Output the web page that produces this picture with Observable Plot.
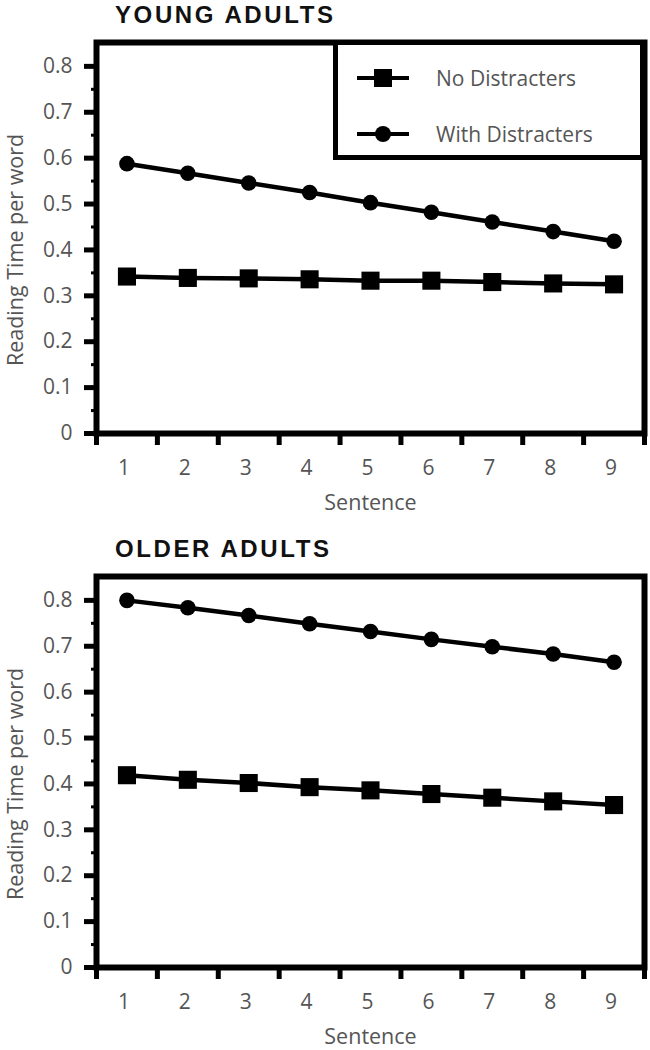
<!DOCTYPE html>
<html>
<head>
<meta charset="utf-8">
<script src="https://cdn.jsdelivr.net/npm/d3@7"></script>
<script src="https://cdn.jsdelivr.net/npm/@observablehq/plot@0.6"></script>
<style>
  html, body { margin: 0; padding: 0; background: #fff; }
  #root { position: relative; width: 650px; height: 1050px; overflow: hidden; }
  .panel { position: absolute; left: 0; width: 650px; }
  .title { position: absolute; left: 115px; top: 3px; font-family: "Liberation Sans", Arial, sans-serif;
           font-weight: bold; font-size: 24px; line-height: 24px; letter-spacing: 2.6px; color: #111; white-space: nowrap; }
  .legend { position: absolute; left: 333px; top: 40px; width: 312px; height: 120px; box-sizing: border-box;
            border: 5px solid #000; background: #fff; }
  .legend .item { position: absolute; left: 19px; display: flex; align-items: center; font-family: "Open Sans", sans-serif;
                  font-size: 21px; color: #555; white-space: nowrap; }
  .legend .item svg { margin-right: 27px; }
</style>
</head>
<body>
<div id="root"></div>
<script>
// ---- data ----
const sentences = [1, 2, 3, 4, 5, 6, 7, 8, 9];
const seriesNames = ["No Distracters", "With Distracters"];
const youngNo   = [0.342, 0.339, 0.338, 0.336, 0.333, 0.333, 0.330, 0.327, 0.325];
const youngWith = [0.588, 0.567, 0.546, 0.525, 0.503, 0.482, 0.461, 0.440, 0.419];
const olderNo   = [0.419, 0.409, 0.402, 0.393, 0.386, 0.378, 0.370, 0.362, 0.354];
const olderWith = [0.800, 0.784, 0.767, 0.749, 0.732, 0.715, 0.699, 0.683, 0.665];
const panelTitles = ["YOUNG ADULTS", "OLDER ADULTS"];
const yTicks = [0, 0.1, 0.2, 0.3, 0.4, 0.5, 0.6, 0.7, 0.8];
const yMinorTicks = [0.05, 0.15, 0.25, 0.35, 0.45, 0.55, 0.65, 0.75];
const xBoundaries = [0.5, 1.5, 2.5, 3.5, 4.5, 5.5, 6.5, 7.5, 8.5, 9.5];
const yLabel = "Reading Time per word";
const xLabel = "Sentence";
const yMax = 0.852;

const gray = "#555";
const font = "'Open Sans', sans-serif";

function rows(noVals, withVals) {
  const out = [];
  sentences.forEach((s, i) => {
    out.push({sentence: s, value: noVals[i], series: seriesNames[0]});
    out.push({sentence: s, value: withVals[i], series: seriesNames[1]});
  });
  return out;
}

function makePanel(data, height) {
  const noData = data.filter(d => d.series === seriesNames[0]);
  const withData = data.filter(d => d.series === seriesNames[1]);
  const yMid = (d3.min(yTicks) + d3.max(yTicks)) / 2;
  return Plot.plot({
    width: 650,
    height: height,
    marginTop: 42,
    marginBottom: height - 433,
    marginLeft: 96,
    marginRight: 6,
    style: {fontFamily: font, fontSize: "21px", color: gray, background: "transparent"},
    x: {domain: [0.5, 9.5]},
    y: {domain: [0, yMax]},
    marks: [
      Plot.frame({stroke: "black", strokeWidth: 6}),
      // tick marks
      Plot.axisY({ticks: yMinorTicks, tickSize: 5, tickFormat: () => "", stroke: "black", strokeWidth: 3, label: null}),
      Plot.axisY({ticks: yTicks, tickSize: 12, tickFormat: () => "", stroke: "black", strokeWidth: 5, label: null}),
      Plot.axisX({ticks: xBoundaries, tickSize: 12, tickFormat: () => "", stroke: "black", strokeWidth: 5, label: null}),
      // tick labels
      Plot.axisY({ticks: yTicks, tickSize: 0, tickPadding: 24, tickFormat: d => d === 0 ? "0" : d.toFixed(1), fill: gray, label: null}),
      Plot.axisX({ticks: sentences, tickSize: 0, tickPadding: 27, tickFormat: d => String(d), fill: gray, label: null, dx: -3}),
      // axis titles
      Plot.text([yLabel], {text: d => d, y: () => yMid, frameAnchor: "left", textAnchor: "middle", dx: -80, rotate: -90, fill: gray, fontSize: 21.5}),
      Plot.text([xLabel], {text: d => d, frameAnchor: "bottom", dy: 76, fill: gray, fontSize: 21.5}),
      // series
      Plot.line(noData, {x: "sentence", y: "value", stroke: "black", strokeWidth: 4.5}),
      Plot.line(withData, {x: "sentence", y: "value", stroke: "black", strokeWidth: 4.5}),
      Plot.dot(noData, {x: "sentence", y: "value", symbol: "square", r: 10.2, fill: "black", stroke: "none"}),
      Plot.dot(withData, {x: "sentence", y: "value", symbol: "circle", r: 7.8, fill: "black", stroke: "none"})
    ]
  });
}

function legendSwatch(symbol) {
  const ns = "http://www.w3.org/2000/svg";
  const svg = document.createElementNS(ns, "svg");
  svg.setAttribute("width", 52); svg.setAttribute("height", 22);
  const line = document.createElementNS(ns, "line");
  line.setAttribute("x1", 0); line.setAttribute("x2", 52); line.setAttribute("y1", 11); line.setAttribute("y2", 11);
  line.setAttribute("stroke", "black"); line.setAttribute("stroke-width", 4);
  svg.appendChild(line);
  if (symbol === "square") {
    const r = document.createElementNS(ns, "rect");
    r.setAttribute("x", 17); r.setAttribute("y", 2); r.setAttribute("width", 18); r.setAttribute("height", 18);
    svg.appendChild(r);
  } else {
    const c = document.createElementNS(ns, "circle");
    c.setAttribute("cx", 26); c.setAttribute("cy", 11); c.setAttribute("r", 8);
    svg.appendChild(c);
  }
  return svg;
}

const root = document.getElementById("root");
const panels = [
  {title: panelTitles[0], data: rows(youngNo, youngWith), top: 0, height: 534, legend: true},
  {title: panelTitles[1], data: rows(olderNo, olderWith), top: 534, height: 516, legend: false}
];
panels.forEach(p => {
  const div = document.createElement("div");
  div.className = "panel";
  div.style.top = p.top + "px";
  div.style.height = p.height + "px";
  div.appendChild(makePanel(p.data, p.height));
  const t = document.createElement("div");
  t.className = "title";
  t.textContent = p.title;
  div.appendChild(t);
  if (p.legend) {
    const lg = document.createElement("div");
    lg.className = "legend";
    [["square", seriesNames[0], 19], ["circle", seriesNames[1], 75]].forEach(([sym, name, top]) => {
      const item = document.createElement("div");
      item.className = "item";
      item.style.top = top + "px";
      item.appendChild(legendSwatch(sym));
      const span = document.createElement("span");
      span.textContent = name;
      item.appendChild(span);
      lg.appendChild(item);
    });
    div.appendChild(lg);
  }
  root.appendChild(div);
});
</script>
</body>
</html>
